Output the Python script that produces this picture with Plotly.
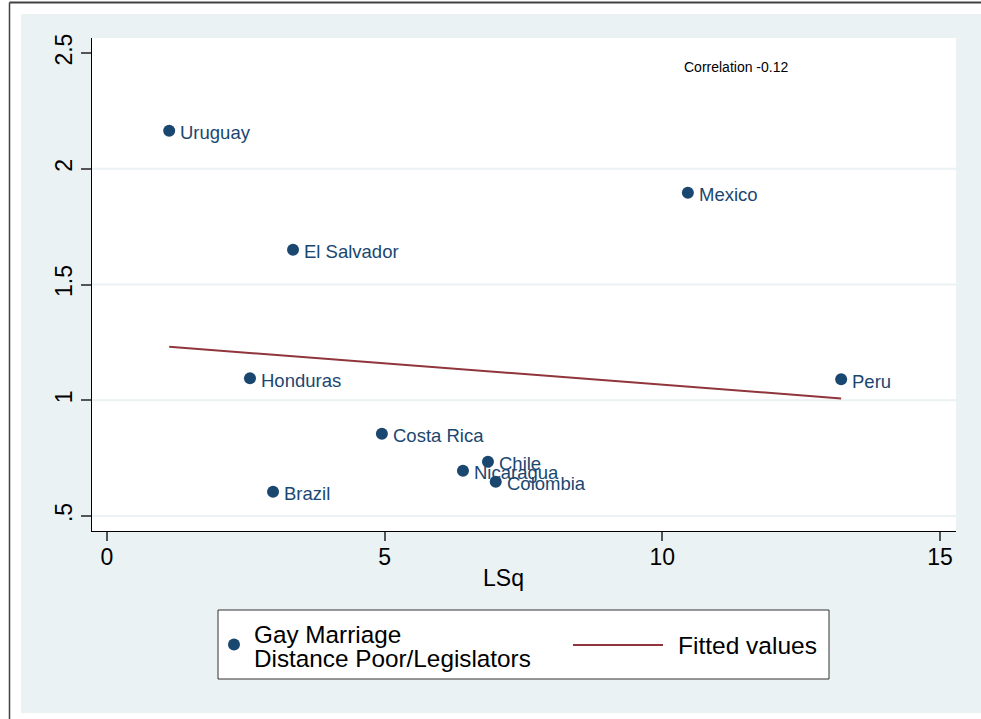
import plotly.graph_objects as go

# Scatter data: LSq vs. gay-marriage distance between poor and legislators
countries = ["Uruguay", "Mexico", "El Salvador", "Honduras", "Peru",
             "Costa Rica", "Chile", "Nicaragua", "Colombia", "Brazil"]
lsq = [1.12, 10.46, 3.35, 2.575, 13.22, 4.95, 6.86, 6.41, 7.0, 2.99]
gay_marriage = [2.164, 1.896, 1.65, 1.095, 1.091, 0.855, 0.734, 0.695, 0.648, 0.605]

# Linear fit (endpoints over the x-range of the data)
fit_x = [1.12, 13.22]
fit_y = [1.231, 1.008]

x_ticks = [0, 5, 10, 15]
y_ticks = [0.5, 1, 1.5, 2, 2.5]
y_tick_text = [".5", "1", "1.5", "2", "2.5"]
grid_y = [0.5, 1, 1.5, 2]

correlation_text = "Correlation -0.12"
legend_scatter = ["Gay Marriage", "Distance Poor/Legislators"]
legend_fit = "Fitted values"
x_title = "LSq"

NAVY = "#1a476f"
MAROON = "#90353b"
BG = "#eaf2f3"
FONT = "Liberation Sans, Arial, sans-serif"

W, H = 981, 719
ML, MR, MT, MB = 92, 25, 38, 188
PW, PH = W - ML - MR, H - MT - MB


def px(xp):
    return (xp - ML) / PW


def py(yp):
    return (H - MB - yp) / PH


fig = go.Figure()

fig.add_trace(go.Scatter(
    x=lsq, y=gay_marriage, mode="markers",
    marker=dict(size=12, color=NAVY),
    cliponaxis=False, showlegend=False,
))
fig.add_trace(go.Scatter(
    x=fit_x, y=fit_y, mode="lines",
    line=dict(color=MAROON, width=2), showlegend=False,
))

shapes = [
    # light background panel
    dict(type="rect", xref="paper", yref="paper", layer="below",
         x0=px(21), x1=px(1000), y0=py(713), y1=py(14),
         fillcolor=BG, line=dict(width=0)),
    # white plot region
    dict(type="rect", xref="x domain", yref="y domain", layer="below",
         x0=0, x1=1, y0=0, y1=1, fillcolor="white", line=dict(width=0)),
    # outer frame lines
    dict(type="line", xref="paper", yref="paper",
         x0=px(9.5), x1=px(9.5), y0=py(2.5), y1=py(730),
         line=dict(color="#404040", width=1.5)),
    dict(type="line", xref="paper", yref="paper",
         x0=px(9.5), x1=px(1000), y0=py(2.5), y1=py(2.5),
         line=dict(color="#404040", width=2)),
]
for g in grid_y:
    shapes.append(dict(type="line", xref="x domain", yref="y", layer="below",
                       x0=0, x1=1, y0=g, y1=g,
                       line=dict(color=BG, width=2)))

# legend box
shapes += [
    dict(type="rect", xref="paper", yref="paper",
         x0=px(218), x1=px(829), y0=py(679), y1=py(610),
         fillcolor="white", line=dict(color="#333333", width=1)),
    dict(type="circle", xref="paper", yref="paper",
         x0=px(228), x1=px(240), y0=py(650.5), y1=py(638.5),
         fillcolor=NAVY, line=dict(width=0)),
    dict(type="line", xref="paper", yref="paper",
         x0=px(573), x1=px(663), y0=py(645), y1=py(645),
         line=dict(color=MAROON, width=2)),
]

annotations = []
# marker labels to the right of each point
for name, xv, yv in zip(countries, lsq, gay_marriage):
    annotations.append(dict(
        text=name, xref="x", yref="y", x=xv, y=yv,
        xanchor="left", yanchor="middle", xshift=9, yshift=-2,
        showarrow=False, font=dict(family=FONT, size=18.5, color=NAVY)))

annotations += [
    dict(text=correlation_text, xref="x", yref="y", x=10.36, y=2.44,
         xanchor="left", yanchor="middle", showarrow=False,
         font=dict(family=FONT, size=14, color="black")),
    dict(text=x_title, xref="paper", yref="paper", x=px(503), y=py(578),
         xanchor="center", yanchor="middle", showarrow=False,
         font=dict(family=FONT, size=23, color="black")),
    dict(text=legend_scatter[0], xref="paper", yref="paper", x=px(252), y=py(634),
         xanchor="left", yanchor="middle", showarrow=False,
         font=dict(family=FONT, size=24.3, color="black")),
    dict(text=legend_scatter[1], xref="paper", yref="paper", x=px(252), y=py(658),
         xanchor="left", yanchor="middle", showarrow=False,
         font=dict(family=FONT, size=24.3, color="black")),
    dict(text=legend_fit, xref="paper", yref="paper", x=px(676), y=py(645),
         xanchor="left", yanchor="middle", showarrow=False,
         font=dict(family=FONT, size=24.5, color="black")),
]

fig.update_layout(
    width=W, height=H,
    margin=dict(l=ML, r=MR, t=MT, b=MB, pad=0),
    paper_bgcolor="white", plot_bgcolor="white",
    shapes=shapes, annotations=annotations,
    showlegend=False,
    font=dict(family=FONT, color="black"),
)
fig.update_xaxes(
    range=[-0.27, 15.288], tickvals=x_ticks,
    showgrid=False, zeroline=False,
    showline=True, linecolor="black", linewidth=1,
    ticks="outside", ticklen=9, tickwidth=1.5, tickcolor="#555555",
    ticklabelstandoff=-4,
    tickfont=dict(family=FONT, size=23, color="black"),
)
fig.update_yaxes(
    range=[0.435, 2.565], tickvals=y_ticks, ticktext=y_tick_text,
    tickangle=-90,
    showgrid=False, zeroline=False,
    showline=True, linecolor="black", linewidth=1,
    ticks="outside", ticklen=10, tickwidth=1.5, tickcolor="#555555",
    tickfont=dict(family=FONT, size=23, color="black"),
)

fig.write_html("out.html")
